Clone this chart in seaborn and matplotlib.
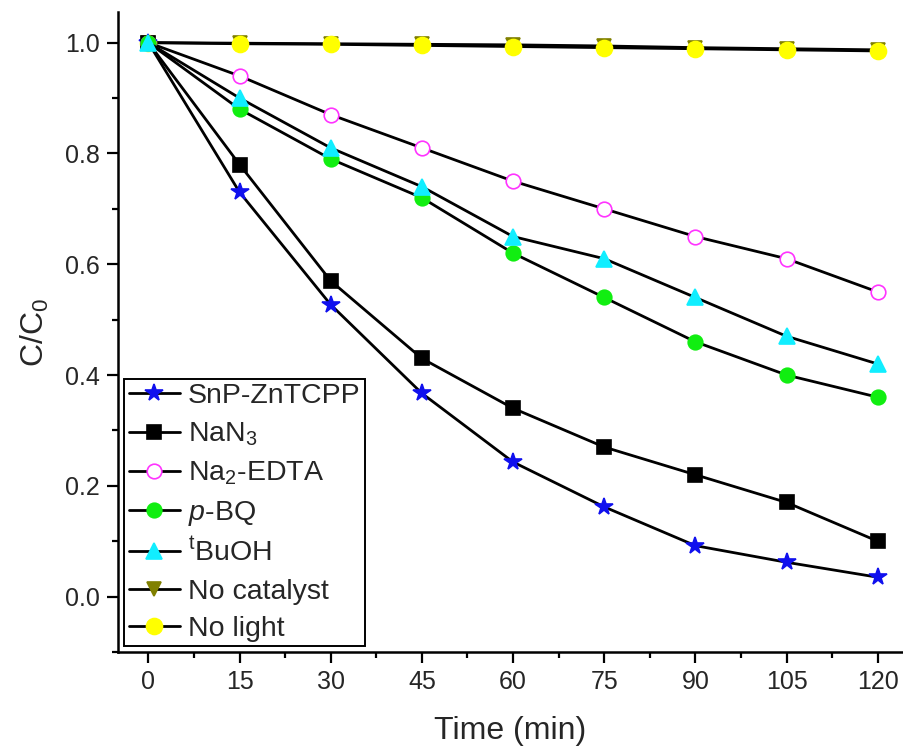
import numpy as np
import pandas as pd
import matplotlib
matplotlib.use("Agg")
import matplotlib.pyplot as plt
import seaborn as sns
from matplotlib.ticker import MultipleLocator

sns.set_theme(style="ticks")
plt.rcParams['font.family'] = ['Liberation Sans', 'DejaVu Sans']
plt.rcParams['mathtext.fontset'] = 'custom'
plt.rcParams['mathtext.rm'] = 'Liberation Sans'
plt.rcParams['mathtext.it'] = 'Liberation Sans:italic'

time = [0, 15, 30, 45, 60, 75, 90, 105, 120]
snp_zntcpp = [1.0, 0.73, 0.527, 0.367, 0.243, 0.162, 0.092, 0.062, 0.035]
nan3 = [1.0, 0.78, 0.57, 0.43, 0.34, 0.27, 0.22, 0.17, 0.10]
na2_edta = [1.0, 0.94, 0.87, 0.81, 0.75, 0.70, 0.65, 0.61, 0.55]
p_bq = [1.0, 0.88, 0.79, 0.72, 0.62, 0.54, 0.46, 0.40, 0.36]
tbuoh = [1.0, 0.90, 0.81, 0.74, 0.65, 0.61, 0.54, 0.47, 0.42]
no_catalyst = [1.0, 0.999, 0.998, 0.997, 0.996, 0.994, 0.991, 0.989, 0.987]
no_light = [1.0, 0.998, 0.997, 0.995, 0.993, 0.991, 0.989, 0.987, 0.985]

labels = ["SnP-ZnTCPP", "NaN$_3$", "Na$_2$-EDTA", "$p$-BQ", "$^{\\mathrm{t}}$BuOH", "No catalyst", "No light"]
series = [snp_zntcpp, nan3, na2_edta, p_bq, tbuoh, no_catalyst, no_light]
styles = [
    dict(marker='*', mfc='#1010ee', mec='#1010ee', ms=13, z=4),
    dict(marker='s', mfc='black', mec='black', ms=10, z=4),
    dict(marker='o', mfc='white', mec='#ff33ff', ms=10.5, z=4),
    dict(marker='o', mfc='#11ee11', mec='#11ee11', ms=10.5, z=4),
    dict(marker='^', mfc='#11eeff', mec='#11eeff', ms=11.5, z=5),
    dict(marker='v', mfc='#808000', mec='#808000', ms=10.5, z=2),
    dict(marker='o', mfc='#ffff00', mec='#ffff00', ms=11.5, z=3),
]

fig = plt.figure(figsize=(9.04, 7.51), dpi=100)
ax = fig.add_axes([0.1305, 0.1318, 0.8673, 0.852])

for lab, vals, st in zip(labels, series, styles):
    df = pd.DataFrame({"Time": time, "C": vals})
    sns.lineplot(data=df, x="Time", y="C", ax=ax, color='black', lw=2.0,
                 marker=st['marker'], markersize=st['ms'],
                 markerfacecolor=st['mfc'], markeredgecolor=st['mec'],
                 markeredgewidth=1.2, zorder=st['z'], label=lab)

ax.set_xlim(-5, 124)
ax.set_ylim(-0.1, 1.055)
ax.xaxis.set_major_locator(MultipleLocator(15))
ax.xaxis.set_minor_locator(MultipleLocator(7.5))
ax.yaxis.set_minor_locator(MultipleLocator(0.1))
ax.set_yticks([0.0, 0.2, 0.4, 0.6, 0.8, 1.0])
ax.set_yticklabels(["0.0", "0.2", "0.4", "0.6", "0.8", "1.0"])
ax.tick_params(which='major', direction='out', length=8, width=1.6, labelsize=18,
               color='black', pad=5)
ax.tick_params(which='minor', direction='out', length=4.5, width=1.6, color='black')
for s in ['top', 'right']:
    ax.spines[s].set_visible(False)
for s in ['left', 'bottom']:
    ax.spines[s].set_linewidth(1.8)
    ax.spines[s].set_color('black')

ax.set_xlabel("Time (min)", fontsize=23, labelpad=16)
ax.set_ylabel("C/C$_0$", fontsize=23, labelpad=10)

leg = ax.legend(loc='lower left', bbox_to_anchor=(0.008, 0.009), fontsize=20.5,
                frameon=True, fancybox=False, edgecolor='black', framealpha=1,
                handlelength=1.8, handletextpad=0.28, borderpad=0.15, labelspacing=0.4,
                borderaxespad=0.0)
leg.get_frame().set_linewidth(1.4)
leg.set_zorder(10)

fig.savefig("out.png", dpi=100)
